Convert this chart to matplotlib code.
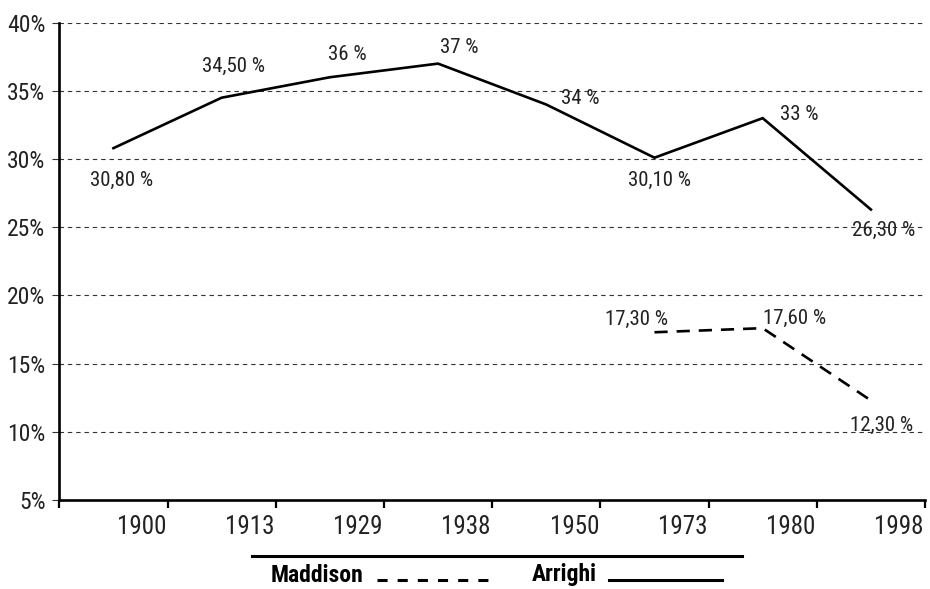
import matplotlib
matplotlib.use("Agg")
import matplotlib.pyplot as plt
import numpy as np
from matplotlib.lines import Line2D
from matplotlib.ticker import FixedLocator

plt.rcParams['font.family'] = ['Roboto Condensed', 'DejaVu Sans']
plt.rcParams['font.stretch'] = 'condensed'

years = ['1900', '1913', '1929', '1938', '1950', '1973', '1980', '1998']
arrighi = [30.8, 34.5, 36, 37, 34, 30.1, 33, 26.3]
maddison = [None, None, None, None, None, 17.3, 17.6, 12.3]
arrighi_labels = ['30,80 %', '34,50 %', '36 %', '37 %', '34 %', '30,10 %', '33 %', '26,30 %']
maddison_labels = [None, None, None, None, None, '17,30 %', '17,60 %', '12,30 %']

# label offsets in pixels (dx, dy)
arrighi_off = [(8, -32), (12, 31), (17, 23), (21, 16), (34, 6), (5, -23), (37, 4), (13, -21)]
maddison_off = [None, None, None, None, None, (-18, 13), (32, 10), (11, -25)]

W, H = 930, 589
fig = plt.figure(figsize=(W / 100, H / 100), dpi=100)
ax = fig.add_axes([59.3 / W, 1 - 500 / H, (925 - 59.3) / W, (500 - 22.7) / H])

x = np.arange(len(years)) + 0.5
m = np.array([np.nan if v is None else v for v in maddison])

ax.plot(x, arrighi, color='black', lw=1.9, solid_joinstyle='miter')
ax.plot(x, m, color='black', lw=1.9, linestyle=(0, (5, 3.4)))

for xi, v, lab, off in zip(x, arrighi, arrighi_labels, arrighi_off):
    ax.annotate(lab, (xi, v), xytext=off, textcoords='offset pixels',
                ha='center', va='center', fontsize=15, color='#222222')
for xi, v, lab, off in zip(x, maddison, maddison_labels, maddison_off):
    if v is None:
        continue
    ax.annotate(lab, (xi, v), xytext=off, textcoords='offset pixels',
                ha='center', va='center', fontsize=15, color='#222222')

ax.set_xlim(0, len(years))
ax.set_ylim(5, 40)

# y axis
ax.set_yticks(np.arange(5, 41, 5))
ax.set_yticklabels(['%d%%' % v for v in range(5, 41, 5)], fontsize=17, color='#222222')
ax.tick_params(axis='y', direction='out', length=5, width=0.8, pad=5, color='#333333')
for yv in range(10, 41, 5):
    ax.axhline(yv, color='#333333', lw=0.8, linestyle=(0, (4, 3.5)), zorder=0)

# x axis: ticks on boundaries, labels shifted right of center
ax.xaxis.set_major_locator(FixedLocator(np.arange(len(years) + 1)))
ax.xaxis.set_major_formatter(plt.NullFormatter())
ax.xaxis.set_minor_locator(FixedLocator(x + 0.26))
ax.set_xticklabels(years, minor=True, fontsize=18, color='#222222')
ax.tick_params(axis='x', which='major', direction='out', length=6, width=1.6)
ax.tick_params(axis='x', which='minor', length=0, pad=11)

for s in ['top', 'right']:
    ax.spines[s].set_visible(False)
for s in ['left', 'bottom']:
    ax.spines[s].set_linewidth(1.9)

# legend
def fx(px):
    return px / W

def fy(py):
    return 1 - py / H

fig.add_artist(Line2D([fx(252), fx(742)], [fy(556), fy(556)], color='black', lw=2.2))
fig.text(fx(271), fy(575), 'Maddison', fontsize=17, fontweight='bold', va='center', ha='left')
fig.add_artist(Line2D([fx(377), fx(492)], [fy(580), fy(580)], color='black', lw=2.2,
                      linestyle=(0, (3.3, 3.3))))
fig.text(fx(532), fy(575), 'Arrighi', fontsize=17, fontweight='bold', va='center', ha='left')
fig.add_artist(Line2D([fx(609), fx(722)], [fy(580), fy(580)], color='black', lw=2.2))

fig.savefig('out.png', dpi=100)
